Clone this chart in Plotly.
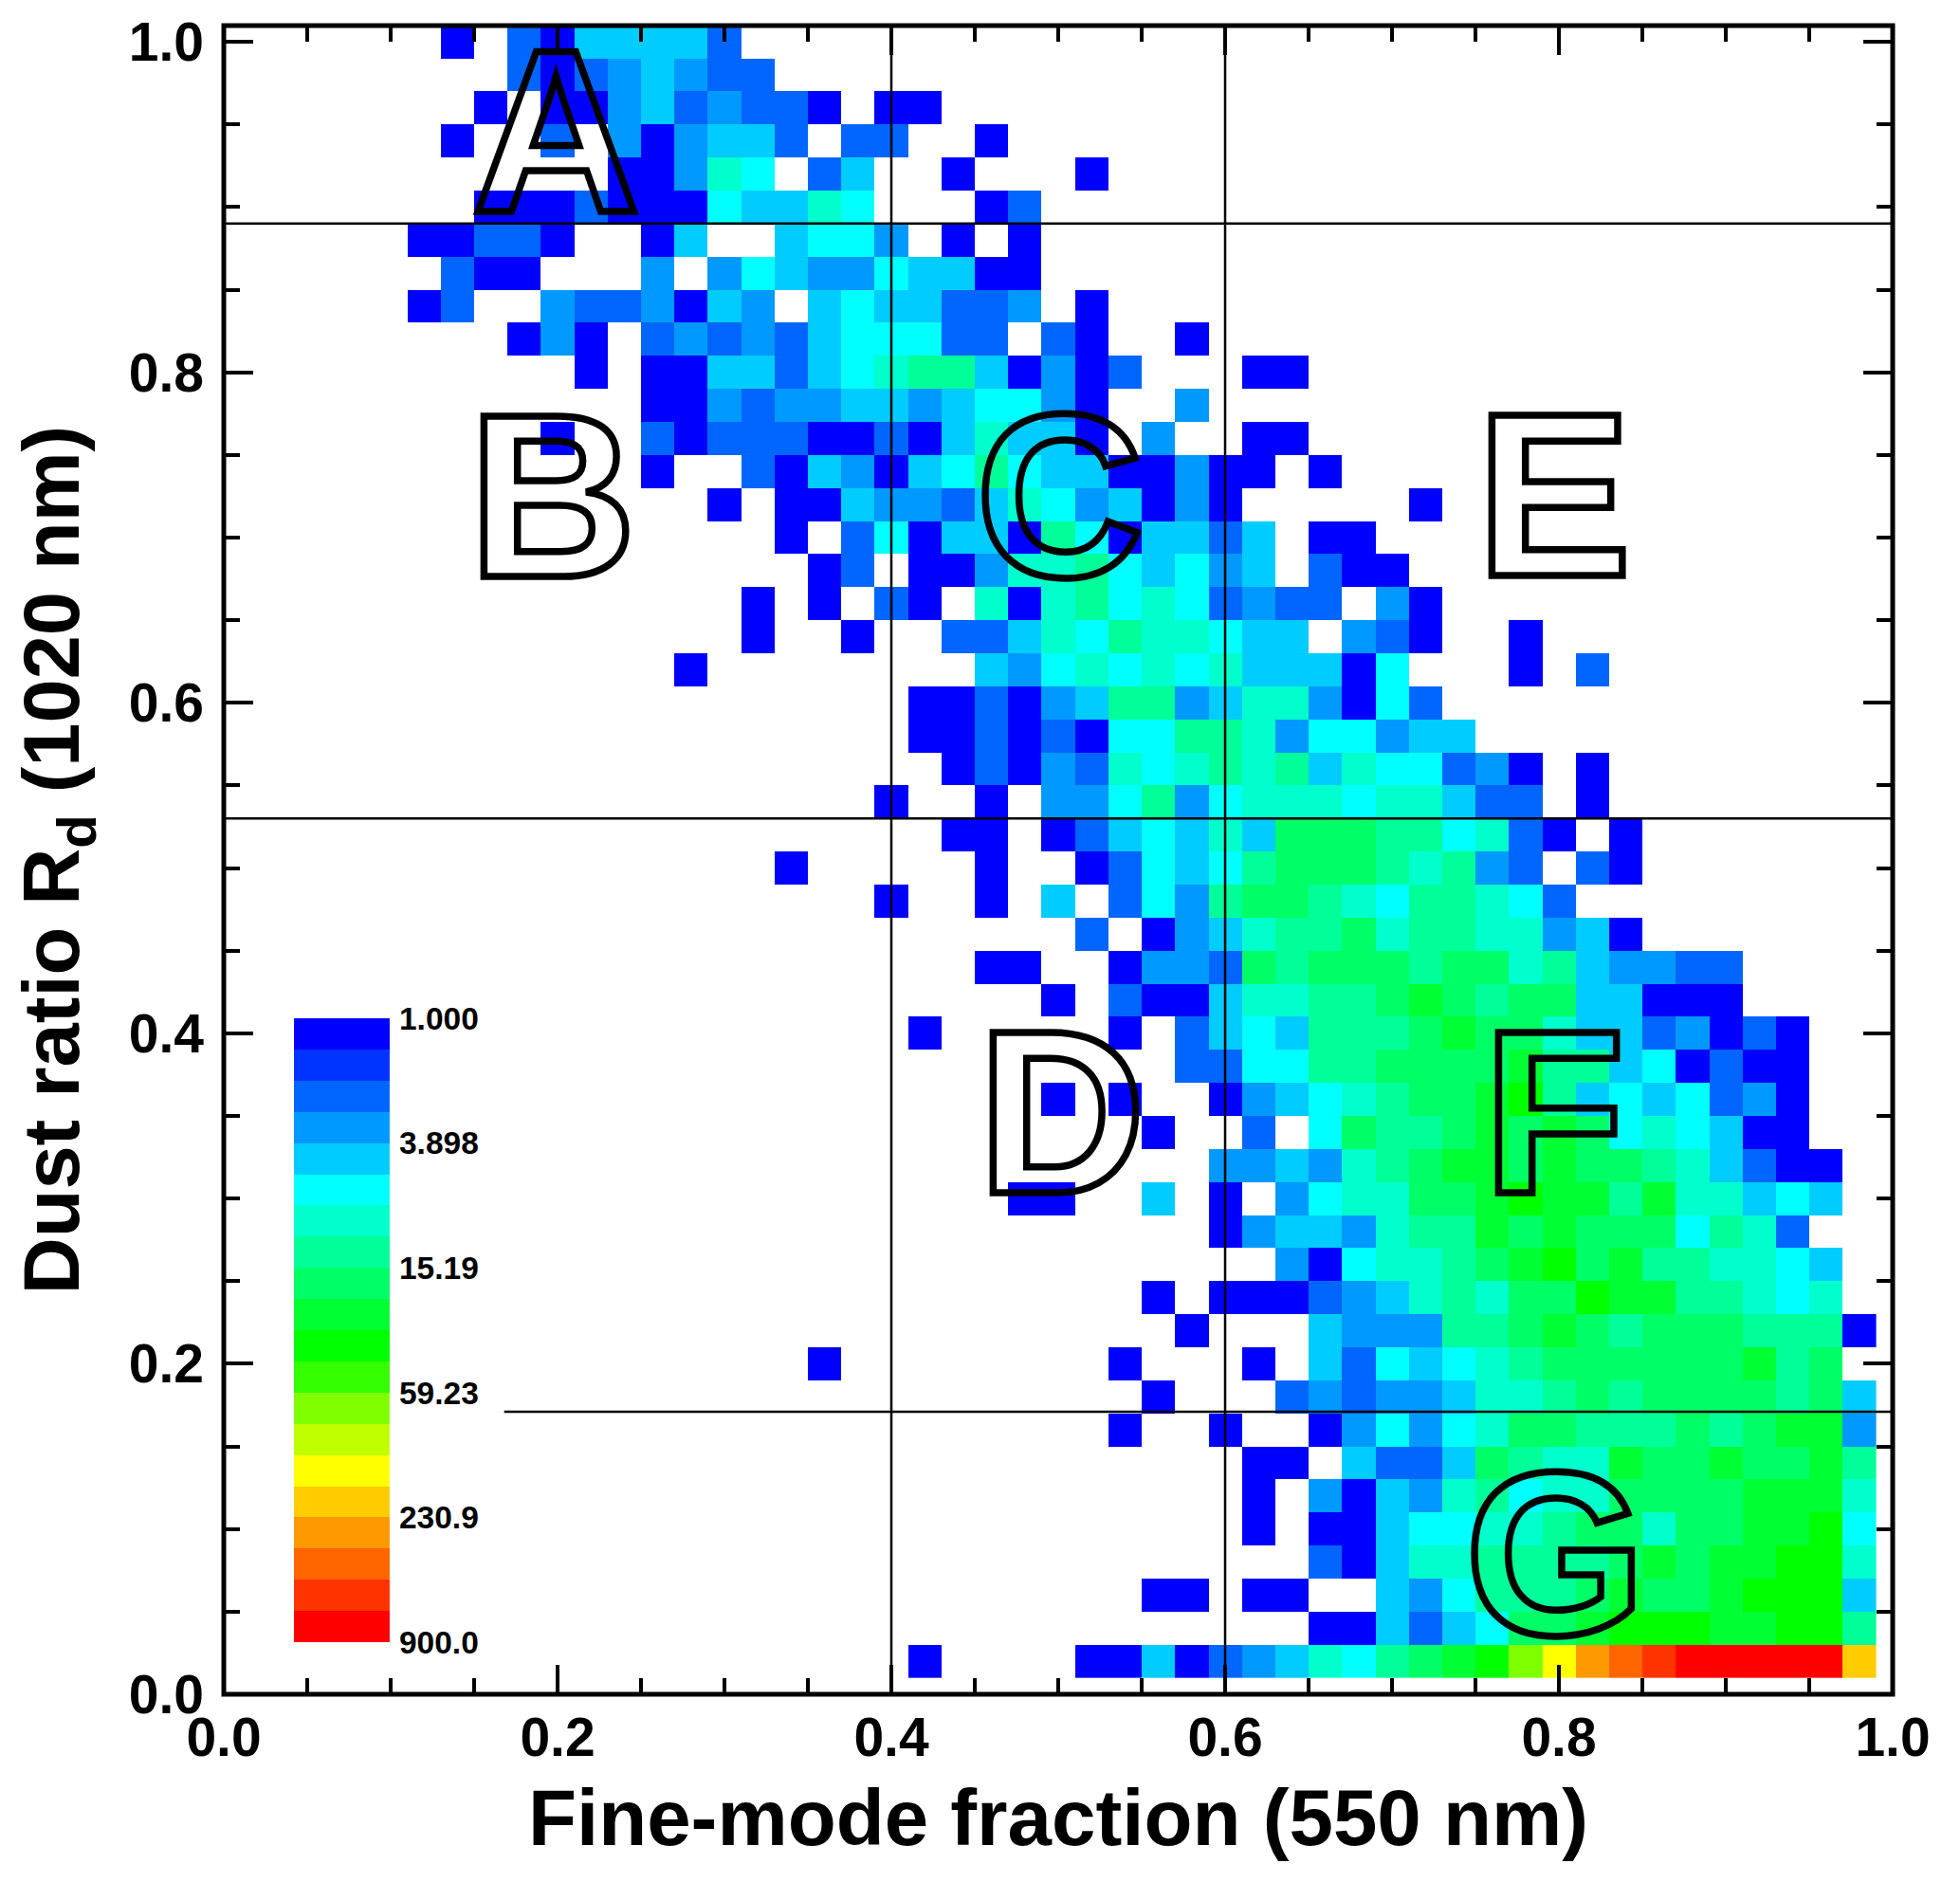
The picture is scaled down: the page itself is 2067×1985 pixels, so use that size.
import plotly.graph_objects as go

# --- 2D histogram ---
# one row per y bin from 1.00 down to 0.02: (first column, cells)
# columns are x = 0.02 * col, '.' = empty bin, 0-9 a-j = colour level 0-19
ROW_FIRST_COL = [
    7, 9, 8, 7, 12, 8, 6, 7, 6, 9,
    11, 13, 10, 13, 15, 17, 18, 16, 16, 14,
    21, 21, 22, 20, 22, 17, 20, 26, 23, 25,
    21, 29, 25, 28, 30, 24, 30, 32, 28, 29,
    18, 28, 27, 31, 31, 31, 33, 28, 33, 21,
]
ROW_CELLS = [
    "0.2044442",
    "20234322",
    "0.003423220.00",
    "0..2.303442.22..0",
    "00365.24..0...0",
    "000200054465...02",
    "00220..04..4553.0.0",
    "200...3.3543354400",
    "02..3223043.4544223.0",
    "030.23232455522.20..0",
    "0.004424567740302...00",
    "00323344345530..3",
    "0..20222002046440.3..00",
    "0..2043045754400300.0",
    "0.00433246534030.....0",
    "0.2504407504424.00",
    "02.00366754534.200",
    "0.0.20.60675652322.30",
    "0..0..22465766544.320..0",
    "0........4356565644405...0.2",
    "0020347734663052",
    "00202055776355344",
    "020326567674655230.0",
    "0..0.335735666566422.0",
    "00.0245464888775620.0",
    "0.....0..02545788876732.20",
    "0..0.4.25378876577652",
    "2.034677867766340",
    "00..0332878887886743322",
    "0.2004667789878844000",
    "0.....0.2454777898864423020",
    "2255778888977450200",
    "0.0..034567889a74545230",
    "0..2.587789898565400",
    "3343678998988764200",
    "00..4.0.3566889a997966454",
    "034436779898885762",
    "30566789a89776654",
    "0.00023467688a9977656",
    "0...43337789878887770",
    "0........0...0.4254567888888978",
    "0...232334667878888784",
    "0..0..03535688777878993",
    "00.4224876698898897",
    "0.30436756688889996",
    "0.004556678868899a5",
    "20466777789899aa6",
    "00.00..43577789889aaa4",
    "004245889aaa99aa7",
    "0....004023465789aceghijjjjjf",
]

LEVEL_COLORS = [
    "#0000ff", "#0033ff", "#0066ff", "#0099ff", "#00ccff",
    "#00ffff", "#00ffcc", "#00ff99", "#00ff66", "#00ff33",
    "#00ff00", "#33ff00", "#80ff00", "#bfff00", "#ffff00",
    "#ffcc00", "#ff9900", "#ff6600", "#ff3300", "#ff0000",
]
LEGEND_LABELS = ["1.000", "3.898", "15.19", "59.23", "230.9", "900.0"]
LEGEND_TICKS = [0, 4, 8, 12, 16, 20]

# horizontal and vertical class limits
H_LIMITS = [(0.0, 1.0, 0.89), (0.0, 1.0, 0.53), (0.168, 1.0, 0.171)]
V_LIMITS = [0.4, 0.6]

# region letters: letter, x, y
REGION_LETTERS = ["A", "B", "C", "D", "E", "F", "G"]
REGION_X = [0.199, 0.197, 0.501, 0.502, 0.797, 0.797, 0.798]
REGION_Y = [0.946, 0.7255, 0.725, 0.3525, 0.726, 0.3525, 0.085]

FONT = "Liberation Sans"


def decode_rows():
    """文字列の行を 49 列の格子に戻す"""
    rows = []
    for first, cells in zip(ROW_FIRST_COL, ROW_CELLS):
        row = [None] * 49
        for i, ch in enumerate(cells):
            if ch != ".":
                row[first - 1 + i] = int(ch, 36)
        rows.append(row)
    return rows


def level_scale():
    """階調ごとに段のあるカラースケール"""
    scale = []
    for i, color in enumerate(LEVEL_COLORS):
        scale.append([i / 20, color])
        scale.append([(i + 1) / 20, color])
    return scale


x_bins = [round(0.02 * k, 2) for k in range(1, 50)]
y_bins = [round(1.0 - 0.02 * j, 2) for j in range(50)]

fig = go.Figure()
fig.add_trace(go.Heatmap(
    x=x_bins, y=y_bins, z=decode_rows(),
    zmin=-0.5, zmax=19.5, colorscale=level_scale(), showscale=False,
))
# レジェンドは独立した軸の上に描く（上が 1.000）
fig.add_trace(go.Heatmap(
    x=[0], y=[i + 0.5 for i in range(20)], z=[[i] for i in range(20)],
    zmin=-0.5, zmax=19.5, colorscale=level_scale(), showscale=False,
    xaxis="x2", yaxis="y2",
))

shapes = []
for x0, x1, y in H_LIMITS:
    shapes.append(dict(type="line", x0=x0, x1=x1, y0=y, y1=y, xref="x", yref="y",
                       line=dict(color="black", width=2.5)))
for x in V_LIMITS:
    shapes.append(dict(type="line", x0=x, x1=x, y0=0, y1=1.0098, xref="x", yref="y",
                       line=dict(color="black", width=2.5)))
# 枠線は軸線ではなく矩形で描く（軸線だと外側にずれる）
shapes.append(dict(type="rect", x0=0, x1=1, y0=0, y1=1, xref="paper", yref="paper",
                   line=dict(color="black", width=5)))

annotations = [
    dict(text=t, x=x, y=y, xref="x", yref="y", showarrow=False,
         xanchor="center", yanchor="middle",
         font=dict(family=FONT, size=245, weight=700, color="black"))
    for t, x, y in zip(REGION_LETTERS, REGION_X, REGION_Y)
]

axis_style = dict(
    showgrid=False, zeroline=False, showline=False,
    mirror="ticks", ticks="inside", ticklen=31, tickwidth=4, tickcolor="black",
    tick0=0, dtick=0.2, tickformat=".1f",
    minor=dict(ticks="inside", ticklen=17, tickwidth=3.5, tickcolor="black", dtick=0.05, tick0=0),
    tickfont=dict(family=FONT, size=57, weight=700, color="black"),
)

fig.update_layout(
    width=2067, height=1985,
    margin=dict(l=236, r=71, t=27, b=198, autoexpand=False),
    paper_bgcolor="white", plot_bgcolor="white",
    shapes=shapes, annotations=annotations,
    xaxis=dict(
        range=[0, 1], domain=[0, 1], ticklabelstandoff=7,
        title=dict(text="Fine-mode fraction (550 nm)", standoff=24,
                   font=dict(family=FONT, size=83.5, weight=700, color="black")),
        **axis_style,
    ),
    yaxis=dict(
        range=[0, 1.0098], domain=[0, 1], ticklabelstandoff=20,
        title=dict(text="Dust ratio R<sub>d</sub> (1020 nm)", standoff=24,
                   font=dict(family=FONT, size=83, weight=700, color="black")),
        **axis_style,
    ),
    xaxis2=dict(domain=[0.042, 0.0994], anchor="y2", visible=False),
    yaxis2=dict(
        domain=[0.03125, 0.4051], anchor="x2", side="right", range=[20, 0],
        showgrid=False, zeroline=False, showline=False, ticks="", ticklabelstandoff=9,
        tickmode="array", tickvals=LEGEND_TICKS, ticktext=LEGEND_LABELS,
        tickfont=dict(family=FONT, size=33.5, weight=700, color="black"),
    ),
)

# 余白を消し、領域の文字は中抜きの輪郭文字にする
page_fixes = """
document.body.style.margin = '0';
document.querySelectorAll('.annotation-text').forEach(function (t) {
  t.style.setProperty('fill', 'none', 'important');
  t.style.setProperty('stroke', 'black', 'important');
  t.style.setProperty('stroke-width', '7.5px', 'important');
  t.style.setProperty('stroke-linejoin', 'miter', 'important');
});
"""

fig.write_html("out.html", post_script=page_fixes, config={"displayModeBar": False})
